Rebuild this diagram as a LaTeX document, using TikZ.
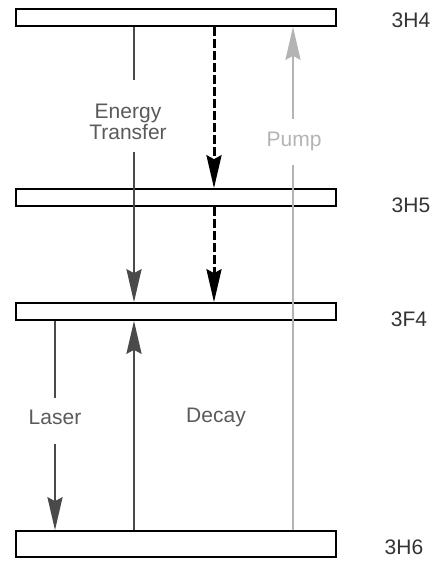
\documentclass[tikz,border=0pt]{standalone}
\usepackage{fontspec}
\setmainfont{Liberation Sans}
\usetikzlibrary{arrows.meta}
\definecolor{arrgray}{HTML}{4A4A4A}
\definecolor{pumpgray}{HTML}{B4B4B4}
\definecolor{txtgray}{HTML}{5A5A5A}
\definecolor{lvlgray}{HTML}{333333}
\tikzset{
  level/.style={draw=black, line width=1.6pt, minimum width=320pt, inner sep=0pt, fill=white},
  lvllabel/.style={text=lvlgray, font=\fontsize{21}{23}\selectfont, inner sep=0pt},
  txt/.style={text=txtgray, font=\fontsize{21}{21}\selectfont, inner sep=0pt, align=center},
  bigtip/.tip={Stealth[length=33pt,width=15pt,inset=4pt]},
  trans/.style={draw=arrgray, line width=2.6pt},
  dashtrans/.style={draw=black, line width=3pt, dash pattern=on 9pt off 3pt},
  pump/.style={draw=pumpgray, line width=2.6pt},
}
\begin{document}
\begin{tikzpicture}[x=1pt,y=-1pt]
\useasboundingbox (0,0) rectangle (433,561);
% levels
\node[level, minimum height=17pt] (h4) at (176,17.5) {};
\node[level, minimum height=17pt] (h5) at (176,197.5) {};
\node[level, minimum height=17pt] (f4) at (176,311.5) {};
\node[level, minimum height=26pt] (h6) at (176,544) {};
% level labels
\node[lvllabel] (l4) at (411,20) {3H4};
\node[lvllabel] (l5) at (411,205) {3H5};
\node[lvllabel] (l3) at (409,319) {3F4};
\node[lvllabel] (l6) at (404,547) {3H6};
% texts
\node[txt] (et) at (128,122) {Energy\\Transfer};
\node[txt, text=pumpgray] (pt) at (294,141) {Pump};
\node[txt] (lt) at (55,417) {Laser};
\node[txt] (dt) at (216,417) {Decay};
% break coordinates
\coordinate (e1) at (134,80);
\coordinate (e2) at (134,152);
\coordinate (xd) at (214,0);
\coordinate (p1) at (293,165);
\coordinate (p2) at (293,119);
\coordinate (la1) at (55,398);
\coordinate (la2) at (55,444);
\coordinate (xdec) at (134,0);
% energy transfer
\draw[trans] (h4.south -| e1) -- (e1);
\draw[trans, -{bigtip}] (e2) -- (f4.north -| e2);
% dashed decay 3H4 -> 3H5 -> 3F4
\draw[dashtrans, -{bigtip}] (h4.south -| xd) -- (h5.north -| xd);
\draw[dashtrans, -{bigtip}] (h5.south -| xd) -- (f4.north -| xd);
% pump
\draw[pump] (h6.north -| p1) -- (p1);
\draw[pump, -{bigtip}] (p2) -- (h4.south -| p2);
% laser
\draw[trans] (f4.south -| la1) -- (la1);
\draw[trans, -{bigtip}] (la2) -- (h6.north -| la2);
% decay up
\draw[trans, -{bigtip}] (h6.north -| xdec) -- (f4.south -| xdec);
\end{tikzpicture}
\end{document}
